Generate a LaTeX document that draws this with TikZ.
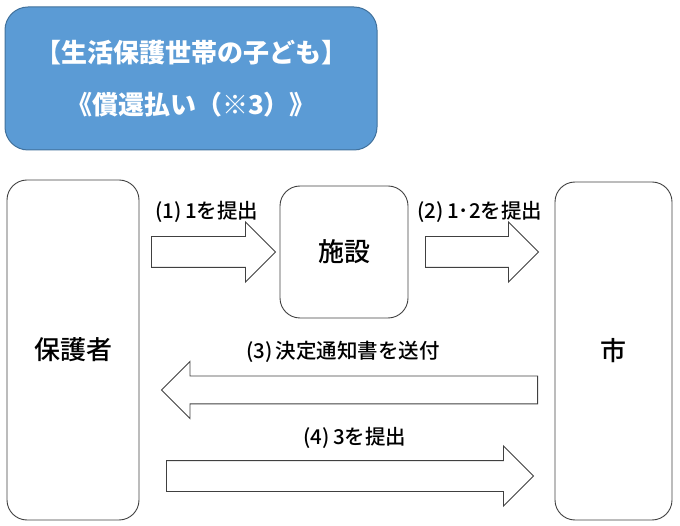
\documentclass[tikz,border=0pt]{standalone}
\usepackage{fontspec}
\setmainfont{Noto Sans CJK JP}
\newfontfamily\jpmedium{Noto Sans CJK JP Medium}
\usetikzlibrary{shapes.arrows}
\definecolor{titleblue}{HTML}{5B9BD5}
\definecolor{titleline}{HTML}{41719C}
\definecolor{boxline}{HTML}{404040}

\begin{document}
\begin{tikzpicture}[x=1pt,y=-1pt,
  box/.style={draw=boxline,line width=0.9pt,rounded corners=20pt,inner sep=0pt,font=\jpmedium\fontsize{26}{30}\selectfont},
  blockarrow/.style={draw=boxline,line width=0.9pt,single arrow,single arrow head extend=14.5pt,
    single arrow tip angle=90,single arrow head indent=0pt,inner xsep=0pt,inner ysep=15pt,anchor=tail},
  steplabel/.style={inner sep=0pt,font=\jpmedium\fontsize{20.5}{24}\selectfont}]
\useasboundingbox (0,0) rectangle (680,526);
% title
\node [draw=titleline,fill=titleblue,line width=1pt,rounded corners=23pt,minimum width=372pt,minimum height=143pt,
  text=white,align=center,font=\bfseries\fontsize{26}{52}\selectfont] (title) at (191,78.5)
  {【生活保護世帯の子ども】\\《償還払い（※3）》};
% boxes
\node [box,minimum width=132pt,minimum height=340pt] (guardian) at (73,350) {保護者};
\node [box,minimum width=128pt,minimum height=132pt] (facility) at (344,252) {施設};
\node [box,minimum width=117pt,minimum height=338pt] (city) at (613.5,351) {市};
% arrows
\node [blockarrow,minimum height=124pt] (arrowa) at (151,252) {};
\node [steplabel] (labela) at (207,212) {(1)\,1を提出};
\node [blockarrow,minimum height=113pt] (arrowb) at (425,252) {};
\node [steplabel] (labelb) at (480,212) {(2)\,1･2を提出};
\node [blockarrow,shape border rotate=180,inner ysep=13.5pt,minimum height=376pt] (arrowc) at (538,390) {};
\node [steplabel] (labelc) at (343,352) {(3)\,決定通知書を送付};
\node [blockarrow,minimum height=367pt] (arrowd) at (166,476) {};
\node [steplabel] (labeld) at (355,438) {(4)\,3を提出};
\end{tikzpicture}
\end{document}
